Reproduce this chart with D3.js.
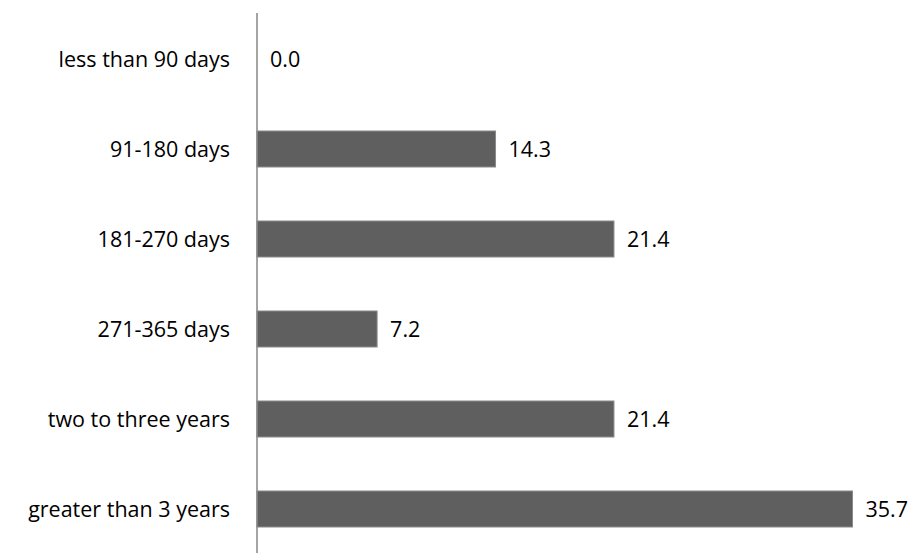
<!DOCTYPE html>
<html>
<head>
<meta charset="utf-8">
<script src="https://cdn.jsdelivr.net/npm/d3@7"></script>
<style>
  body { margin: 0; background: #fff; }
  text { font-family: "Open Sans", "Liberation Sans", sans-serif; fill: #000; }
</style>
</head>
<body>
<svg id="chart" width="918" height="553"></svg>
<script>
// Share of cases by duration (percent)
const categories = ['less than 90 days', '91-180 days', '181-270 days', '271-365 days', 'two to three years', 'greater than 3 years'];
const values = [0.0, 14.3, 21.4, 7.2, 21.4, 35.7];

const svg = d3.select('#chart');
const axisX = 257;

const x = d3.scaleLinear()
    .domain([0, 36])
    .range([axisX, axisX + 36 * 16.68]);

const y = d3.scaleBand()
    .domain(categories)
    .range([14, 554])
    .paddingInner(0.6)
    .paddingOuter(0.3);

// bars
svg.append('g')
    .selectAll('rect')
    .data(values)
    .join('rect')
    .attr('x', x(0))
    .attr('y', (d, i) => y(categories[i]))
    .attr('width', d => x(d) - x(0))
    .attr('height', y.bandwidth())
    .attr('fill', '#5f5f5f')
    .attr('stroke', '#8a8a8a')
    .attr('stroke-width', d => d > 0 ? 1 : 0);

// vertical axis line
svg.append('line')
    .attr('x1', axisX).attr('x2', axisX)
    .attr('y1', 13).attr('y2', 553)
    .attr('stroke', '#868686')
    .attr('stroke-width', 1.5);

// category labels
svg.append('g')
    .selectAll('text')
    .data(categories)
    .join('text')
    .attr('x', 230)
    .attr('y', d => y(d) + y.bandwidth() / 2)
    .attr('dy', '0.35em')
    .attr('text-anchor', 'end')
    .style('font-size', '21.5px')
    .text(d => d);

// value labels
svg.append('g')
    .selectAll('text')
    .data(values)
    .join('text')
    .attr('x', d => x(d) + 13)
    .attr('y', (d, i) => y(categories[i]) + y.bandwidth() / 2)
    .attr('dy', '0.35em')
    .style('font-size', '21.5px')
    .text(d => d.toFixed(1));
</script>
</body>
</html>
